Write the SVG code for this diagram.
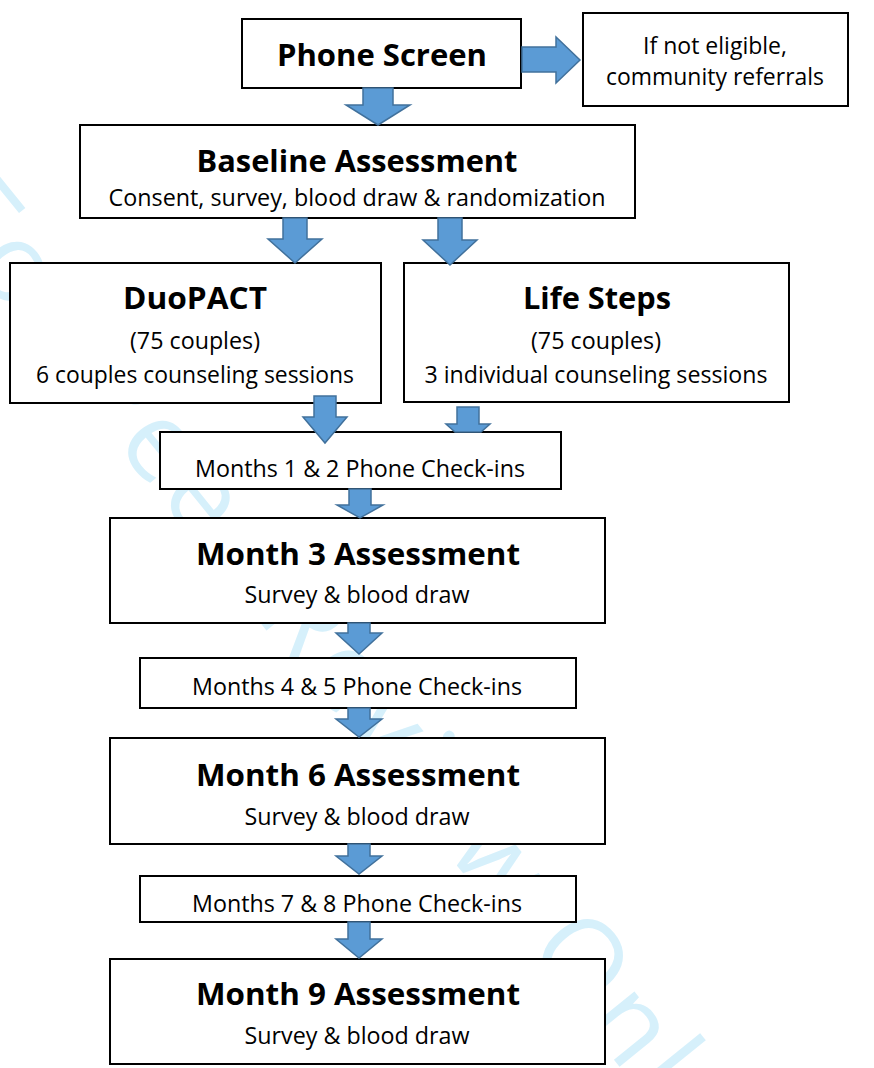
<svg xmlns="http://www.w3.org/2000/svg" width="874" height="1068" viewBox="0 0 874 1068">
<style>
.box{fill:#fff;stroke:#000;stroke-width:2}
.arr{fill:#5B9BD5;stroke:#41719C;stroke-width:1.5;stroke-linejoin:miter}
.t{font-family:"Open Sans","Liberation Sans",sans-serif;font-weight:bold;font-size:31px;fill:#000;text-anchor:middle}
.s{font-family:"Open Sans","Liberation Sans",sans-serif;font-size:23.5px;fill:#000;text-anchor:middle}
.wm{font-family:"Open Sans","Liberation Sans",sans-serif;font-size:110px;fill:#D6F0FB}
</style>
<rect width="874" height="1068" fill="#fff"/>
<text class="wm" transform="translate(-70,215) rotate(51)" x="0" y="0" textLength="1200">For Peer Review Only</text>

<g id="nodes">
<g id="phone-screen"><rect class="box" x="242" y="19" width="279" height="69"/><text class="t" x="382" y="66" textLength="210" lengthAdjust="spacingAndGlyphs">Phone Screen</text></g>
<g id="referrals"><rect class="box" x="583" y="13" width="265" height="93"/><text class="s" x="715" y="54" textLength="144" lengthAdjust="spacingAndGlyphs">If not eligible,</text><text class="s" x="715" y="85" textLength="218" lengthAdjust="spacingAndGlyphs">community referrals</text></g>
<g id="baseline"><rect class="box" x="80" y="125" width="555" height="93"/><text class="t" x="357" y="172" textLength="321" lengthAdjust="spacingAndGlyphs">Baseline Assessment</text><text class="s" x="357" y="206" textLength="497" lengthAdjust="spacingAndGlyphs">Consent, survey, blood draw &amp; randomization</text></g>
<g id="duopact"><rect class="box" x="10" y="263" width="371" height="140"/><text class="t" x="195" y="309" textLength="144" lengthAdjust="spacingAndGlyphs">DuoPACT</text><text class="s" x="195" y="349" textLength="130" lengthAdjust="spacingAndGlyphs">(75 couples)</text><text class="s" x="195" y="383" textLength="318" lengthAdjust="spacingAndGlyphs">6 couples counseling sessions</text></g>
<g id="life-steps"><rect class="box" x="404" y="263" width="385" height="139"/><text class="t" x="597" y="309" textLength="148" lengthAdjust="spacingAndGlyphs">Life Steps</text><text class="s" x="596" y="349" textLength="130" lengthAdjust="spacingAndGlyphs">(75 couples)</text><text class="s" x="596" y="383" textLength="343" lengthAdjust="spacingAndGlyphs">3 individual counseling sessions</text></g>
<g id="months-1-2"><rect class="box" x="160" y="432" width="401" height="57"/><text class="s" x="360" y="477" textLength="330" lengthAdjust="spacingAndGlyphs">Months 1 &amp; 2 Phone Check-ins</text></g>
<g id="month-3"><rect class="box" x="110" y="518" width="495" height="105"/><text class="t" x="358" y="565" textLength="324" lengthAdjust="spacingAndGlyphs">Month 3 Assessment</text><text class="s" x="357" y="603" textLength="225" lengthAdjust="spacingAndGlyphs">Survey &amp; blood draw</text></g>
<g id="months-4-5"><rect class="box" x="140" y="658" width="436" height="50"/><text class="s" x="357" y="695" textLength="330" lengthAdjust="spacingAndGlyphs">Months 4 &amp; 5 Phone Check-ins</text></g>
<g id="month-6"><rect class="box" x="110" y="738" width="495" height="106"/><text class="t" x="358" y="786" textLength="324" lengthAdjust="spacingAndGlyphs">Month 6 Assessment</text><text class="s" x="357" y="825" textLength="225" lengthAdjust="spacingAndGlyphs">Survey &amp; blood draw</text></g>
<g id="months-7-8"><rect class="box" x="140" y="876" width="436" height="46"/><text class="s" x="357" y="912" textLength="330" lengthAdjust="spacingAndGlyphs">Months 7 &amp; 8 Phone Check-ins</text></g>
<g id="month-9"><rect class="box" x="110" y="959" width="495" height="105"/><text class="t" x="358" y="1005" textLength="324" lengthAdjust="spacingAndGlyphs">Month 9 Assessment</text><text class="s" x="357" y="1044" textLength="225" lengthAdjust="spacingAndGlyphs">Survey &amp; blood draw</text></g>
</g>

<g id="connectors">
<path class="arr" d="M363,88 H393 V105 H410 L378,125 L346,105 H363 Z"/>
<path class="arr" d="M522,47 H556 V37 L580,60 L556,83 V72 H522 Z"/>
<path class="arr" d="M283,218 H307 V239 H322 L295,263 L268,239 H283 Z"/>
<path class="arr" d="M438,218 H462 V240 H477 L450,265 L423,240 H438 Z"/>
<path class="arr" d="M314,396 H336 V417 H347 L325,443 L303,417 H314 Z"/>
<path class="arr" d="M457,407 H479 V424 H490 L481,432 H455 L446,424 H457 Z"/>
<path class="arr" d="M349,489 H371 V505 H383 L360,518 L337,505 H349 Z"/>
<path class="arr" d="M348,623 H370 V633 H382 L359,654 L336,633 H348 Z"/>
<path class="arr" d="M348,708 H370 V719 H382 L359,737 L336,719 H348 Z"/>
<path class="arr" d="M348,844 H370 V856 H382 L359,874 L336,856 H348 Z"/>
<path class="arr" d="M348,922 H370 V939 H382 L359,958 L336,939 H348 Z"/>
</g>
</svg>
